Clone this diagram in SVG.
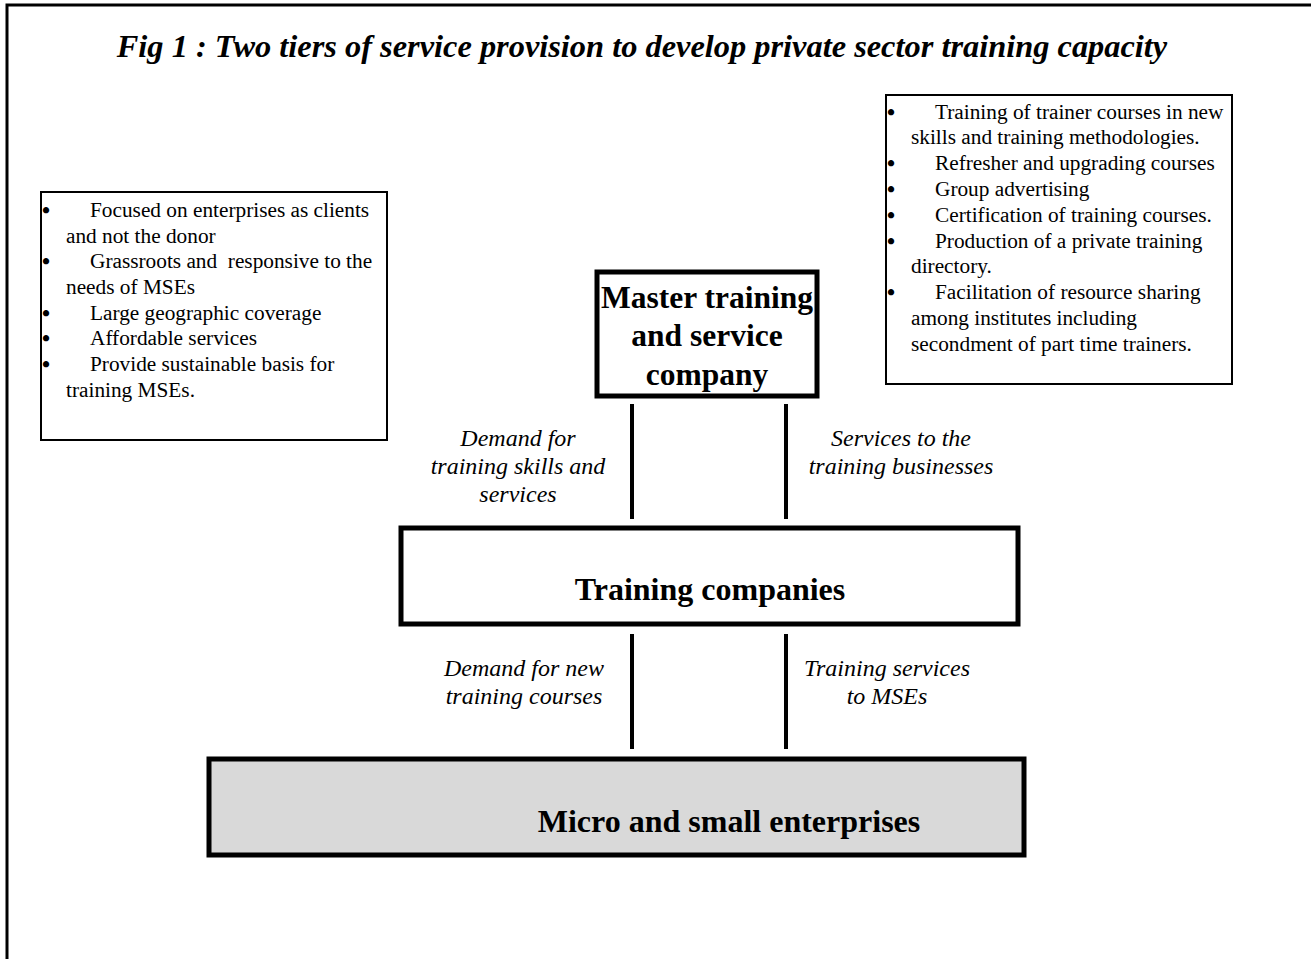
<svg xmlns="http://www.w3.org/2000/svg" width="1311" height="959" viewBox="0 0 1311 959">
<style>
.frame{fill:none;stroke:#000;stroke-width:3}
.box{fill:#fff;stroke:#000;stroke-width:2}
.node{fill:#fff;stroke:#000;stroke-width:5}
.edge{fill:none;stroke:#000;stroke-width:5}
.grey{fill:#d9d9d9}
.t{font-family:"Liberation Serif",serif;font-size:21.3px;fill:#000}
.bu{font-size:23px;font-weight:bold}
.b{font-family:"Liberation Serif",serif;font-size:32px;font-weight:bold;fill:#000;text-anchor:middle}
.m{font-size:31.5px}
.i{font-family:"Liberation Serif",serif;font-size:24px;font-style:italic;fill:#000;text-anchor:middle}
.title{font-family:"Liberation Serif",serif;font-size:32.4px;font-weight:bold;font-style:italic;fill:#000;text-anchor:middle}
.conn{stroke:#000;stroke-width:4}
</style>
<rect width="1311" height="959" fill="#fff"/>
<path class="frame" d="M7,959 V5 H1311"/>
<text class="title" x="642" y="57">Fig 1 : Two tiers of service provision to develop private sector training capacity</text>

<g id="left-box">
<rect class="box" x="41" y="192" width="346" height="248"/>
<g class="t">
<text class="bu" x="42" y="218">•</text><text x="90" y="217">Focused on enterprises as clients</text>
<text x="66" y="243">and not the donor</text>
<text class="bu" x="42" y="269">•</text><text x="90" y="268" xml:space="preserve">Grassroots and  responsive to the</text>
<text x="66" y="294">needs of MSEs</text>
<text class="bu" x="42" y="321">•</text><text x="90" y="320">Large geographic coverage</text>
<text class="bu" x="42" y="346">•</text><text x="90" y="345">Affordable services</text>
<text class="bu" x="42" y="372">•</text><text x="90" y="371">Provide sustainable basis for</text>
<text x="66" y="397">training MSEs.</text>
</g>
</g>

<g id="right-box">
<rect class="box" x="886" y="95" width="346" height="289"/>
<g class="t">
<text class="bu" x="887" y="120">•</text><text x="935" y="119">Training of trainer courses in new</text>
<text x="911" y="144">skills and training methodologies.</text>
<text class="bu" x="887" y="171">•</text><text x="935" y="170">Refresher and upgrading courses</text>
<text class="bu" x="887" y="197">•</text><text x="935" y="196">Group advertising</text>
<text class="bu" x="887" y="223">•</text><text x="935" y="222">Certification of training courses.</text>
<text class="bu" x="887" y="249">•</text><text x="935" y="248">Production of a private training</text>
<text x="911" y="273">directory.</text>
<text class="bu" x="887" y="300">•</text><text x="935" y="299">Facilitation of resource sharing</text>
<text x="911" y="325">among institutes including</text>
<text x="911" y="351">secondment of part time trainers.</text>
</g>
</g>

<g id="master">
<rect x="597" y="272" width="220" height="124" fill="#fff"/>
<text class="b m" x="707" y="308">Master training</text>
<text class="b m" x="707" y="346">and service</text>
<text class="b m" x="707" y="385">company</text>
<rect class="edge" x="597" y="272" width="220" height="124"/>
</g>

<g id="training-companies">
<rect class="node" x="401" y="528" width="617" height="96"/>
<text class="b" x="710" y="600">Training companies</text>
</g>

<g id="mse">
<rect class="node grey" x="209" y="759" width="815" height="96"/>
<text class="b" x="729" y="832">Micro and small enterprises</text>
</g>

<g id="connectors">
<line class="conn" x1="632" y1="404" x2="632" y2="519"/>
<line class="conn" x1="786" y1="404" x2="786" y2="519"/>
<line class="conn" x1="632" y1="634" x2="632" y2="749"/>
<line class="conn" x1="786" y1="634" x2="786" y2="749"/>
</g>

<g id="labels">
<text class="i" x="518" y="446">Demand for</text>
<text class="i" x="518" y="474">training skills and</text>
<text class="i" x="518" y="502">services</text>
<text class="i" x="901" y="446">Services to the</text>
<text class="i" x="901" y="474">training businesses</text>
<text class="i" x="524" y="676">Demand for new</text>
<text class="i" x="524" y="704">training courses</text>
<text class="i" x="887" y="676">Training services</text>
<text class="i" x="887" y="704">to MSEs</text>
</g>
</svg>
